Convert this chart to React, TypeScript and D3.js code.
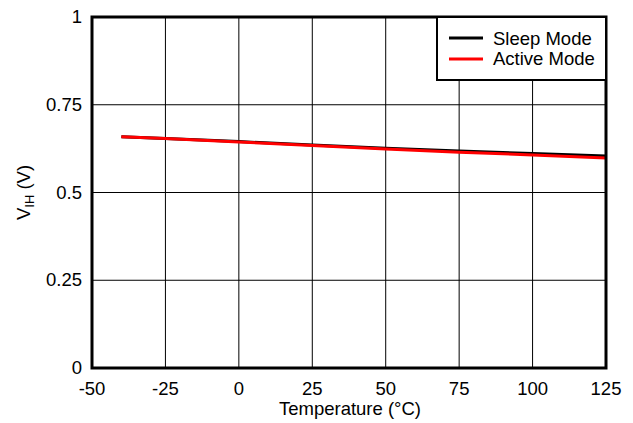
import React from "react";
import * as d3 from "d3";

const temps = [-40, -25, 0, 25, 50, 75, 100, 125];
const sleepMode = [0.659, 0.654, 0.645, 0.635, 0.626, 0.618, 0.611, 0.604];
const activeMode = [0.659, 0.654, 0.644, 0.634, 0.624, 0.615, 0.607, 0.598];
const xTicks = [-50, -25, 0, 25, 50, 75, 100, 125];
const yTicks = [0, 0.25, 0.5, 0.75, 1];
const yTickLabels = ["0", "0.25", "0.5", "0.75", "1"];
const seriesNames = ["Sleep Mode", "Active Mode"];
const seriesColors = ["#000000", "#ff0000"];

export default function App() {
  const W = 633, H = 423;
  const L = 92, R = 606, T = 17, B = 368;
  const x = d3.scaleLinear().domain([-50, 125]).range([L, R]);
  const y = d3.scaleLinear().domain([0, 1]).range([B, T]);
  const line = d3.line<number>().x((_, i) => x(temps[i])).y((d) => y(d));
  const font = "Liberation Sans, Arial, sans-serif";
  const series = [sleepMode, activeMode];
  const fs = 18.5;
  return (
    <svg width={W} height={H} style={{ position: "absolute", left: 0, top: 0 }} fontFamily={font}>
      <rect width={W} height={H} fill="#fff" />
      {xTicks.slice(1, -1).map((t) => (
        <line key={"gx" + t} x1={x(t)} x2={x(t)} y1={T} y2={B} stroke="#000" strokeWidth={1} />
      ))}
      {yTicks.slice(1, -1).map((t) => (
        <line key={"gy" + t} x1={L} x2={R} y1={y(t)} y2={y(t)} stroke="#000" strokeWidth={1} />
      ))}
      {series.map((s, i) => (
        <path key={i} d={line(s) || ""} fill="none" stroke={seriesColors[i]} strokeWidth={3} />
      ))}
      <rect x={L} y={T} width={R - L} height={B - T} fill="none" stroke="#000" strokeWidth={3} />
      {xTicks.map((t) => (
        <text key={"tx" + t} x={x(t)} y={B + 27} textAnchor="middle" fontSize={fs}>{t}</text>
      ))}
      {yTicks.map((t, i) => (
        <text key={"ty" + t} x={L - 10} y={y(t) + 6} textAnchor="end" fontSize={fs}>{yTickLabels[i]}</text>
      ))}
      <text x={350} y={415} textAnchor="middle" fontSize={fs}>Temperature (°C)</text>
      <text transform={`translate(30, ${(T + B) / 2}) rotate(-90)`} textAnchor="middle" fontSize={fs}>
        V<tspan fontSize={13} dy={4}>IH</tspan><tspan dy={-4}> (V)</tspan>
      </text>
      <g>
        <rect x={437} y={T} width={R - 437} height={63} fill="#fff" stroke="#000" strokeWidth={2} />
        {seriesNames.map((n, i) => (
          <g key={n}>
            <line x1={449} x2={483} y1={38 + i * 21} y2={38 + i * 21} stroke={seriesColors[i]} strokeWidth={3} />
            <text x={493} y={45 + i * 20} fontSize={fs}>{n}</text>
          </g>
        ))}
      </g>
    </svg>
  );
}
